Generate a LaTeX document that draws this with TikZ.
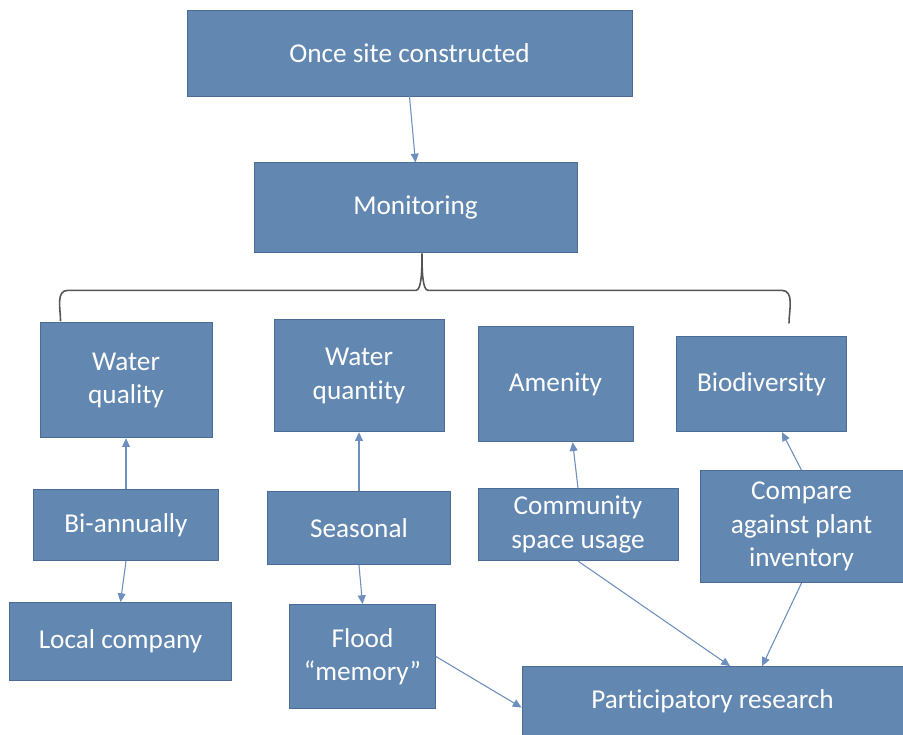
\documentclass[tikz,border=0pt]{standalone}
\usepackage{fontspec}
\setmainfont{Carlito}[Ligatures={NoCommon,NoContextual}, Contextuals={NoAlternate}]
\usepackage{xcolor}
\usepackage{tikz}
\usetikzlibrary{arrows.meta,positioning,calc}

\definecolor{boxblue}{RGB}{98,135,177}
\definecolor{boxedge}{RGB}{74,108,150}
\definecolor{arrowblue}{RGB}{108,143,190}
\definecolor{bracegray}{RGB}{85,85,85}

\begin{document}
\begin{tikzpicture}[
    box/.style={rectangle, draw=boxedge, line width=0.5pt, fill=boxblue, text=white, align=center, inner sep=0pt, font=\fontsize{15.5}{19}\selectfont},
    arrow/.style={-{Triangle[length=5pt,width=4.5pt]}, draw=arrowblue, fill=arrowblue, line width=0.6pt},
    brace/.style={draw=bracegray, line width=0.9pt}
]
\useasboundingbox (0,0) rectangle (18.06,-14.68);

% Top
\node[box, minimum width=8.90cm, minimum height=1.72cm] (site) at (8.19,-1.06) {Once site constructed};
\node[box, minimum width=6.46cm, minimum height=1.80cm, below=1.32cm of site, xshift=0.12cm] (monitoring) {Monitoring};

% What is monitored
\node[box, minimum width=3.44cm, minimum height=2.30cm, below=1.38cm of monitoring, xshift=-5.79cm] (wquality) {Water\\quality};
\node[box, minimum width=3.40cm, minimum height=2.24cm, below=1.32cm of monitoring, xshift=-1.13cm] (wquantity) {Water\\quantity};
\node[box, minimum width=3.10cm, minimum height=2.30cm, below=1.46cm of monitoring, xshift=2.80cm] (amenity) {Amenity};
\node[box, minimum width=3.40cm, minimum height=1.90cm, below=1.66cm of monitoring, xshift=6.92cm] (biodiversity) {Biodiversity};

% How
\node[box, minimum width=3.70cm, minimum height=1.42cm, below=1.02cm of wquality] (biannual) {Bi-annually};
\node[box, minimum width=3.66cm, minimum height=1.46cm, below=1.18cm of wquantity] (seasonal) {Seasonal};
\node[box, minimum width=4.00cm, minimum height=1.44cm, below=0.92cm of amenity, xshift=0.45cm] (community) {Community\\space usage};
\node[box, minimum width=4.06cm, minimum height=2.24cm, below=0.76cm of biodiversity, xshift=0.80cm] (compare) {Compare\\against plant\\inventory};

% Who
\node[box, minimum width=4.44cm, minimum height=1.56cm, below=0.82cm of biannual, xshift=-0.11cm] (local) {Local company};
\node[box, minimum width=2.92cm, minimum height=2.08cm, below=0.78cm of seasonal, xshift=0.07cm] (flood) {Flood\\``memory''};
\node[box, minimum width=7.62cm, minimum height=1.40cm, below=2.10cm of community, xshift=2.69cm] (participatory) {Participatory research};

% Brace
\coordinate (tip) at ($(monitoring.south)+(0.13,0)$);
\coordinate (bmid) at ($(tip)+(0,-0.74)$);
\coordinate (bl) at ($(wquality.north west)+(0.42,0.02)$);
\coordinate (br) at ($(biodiversity.north)+(0.55,0.26)$);
\draw[brace] (bl) to[out=90,in=180] ($(bl |- bmid)+(0.15,0)$) -- ($(bmid)+(-0.12,0)$)
    .. controls ($(bmid)+(-0.01,0)$) and ($(tip)+(0,-0.35)$) .. (tip)
    .. controls ($(tip)+(0,-0.35)$) and ($(bmid)+(0.01,0)$) .. ($(bmid)+(0.12,0)$)
    -- ($(br |- bmid)+(-0.15,0)$) to[out=0,in=90] (br);

% Arrows
\draw[arrow] (site.south) -- (monitoring.north);
\draw[arrow] (biannual.north) -- (wquality.south);
\draw[arrow] (biannual.south) -- (local.north);
\draw[arrow] (seasonal.north) -- (wquantity.south);
\draw[arrow] (seasonal.south) -- (flood.north);
\draw[arrow] (community.north) -- ($(amenity.south west)!0.61!(amenity.south east)$);
\draw[arrow] (compare.north) -- ($(biodiversity.south west)!0.62!(biodiversity.south east)$);
\draw[arrow] (community.south) -- ($(participatory.north west)!0.546!(participatory.north east)$);
\draw[arrow] (compare.south) -- ($(participatory.north west)!0.63!(participatory.north east)$);
\draw[arrow] (flood.east) -- ($(participatory.west)+(0,-0.12)$);

\end{tikzpicture}
\end{document}
